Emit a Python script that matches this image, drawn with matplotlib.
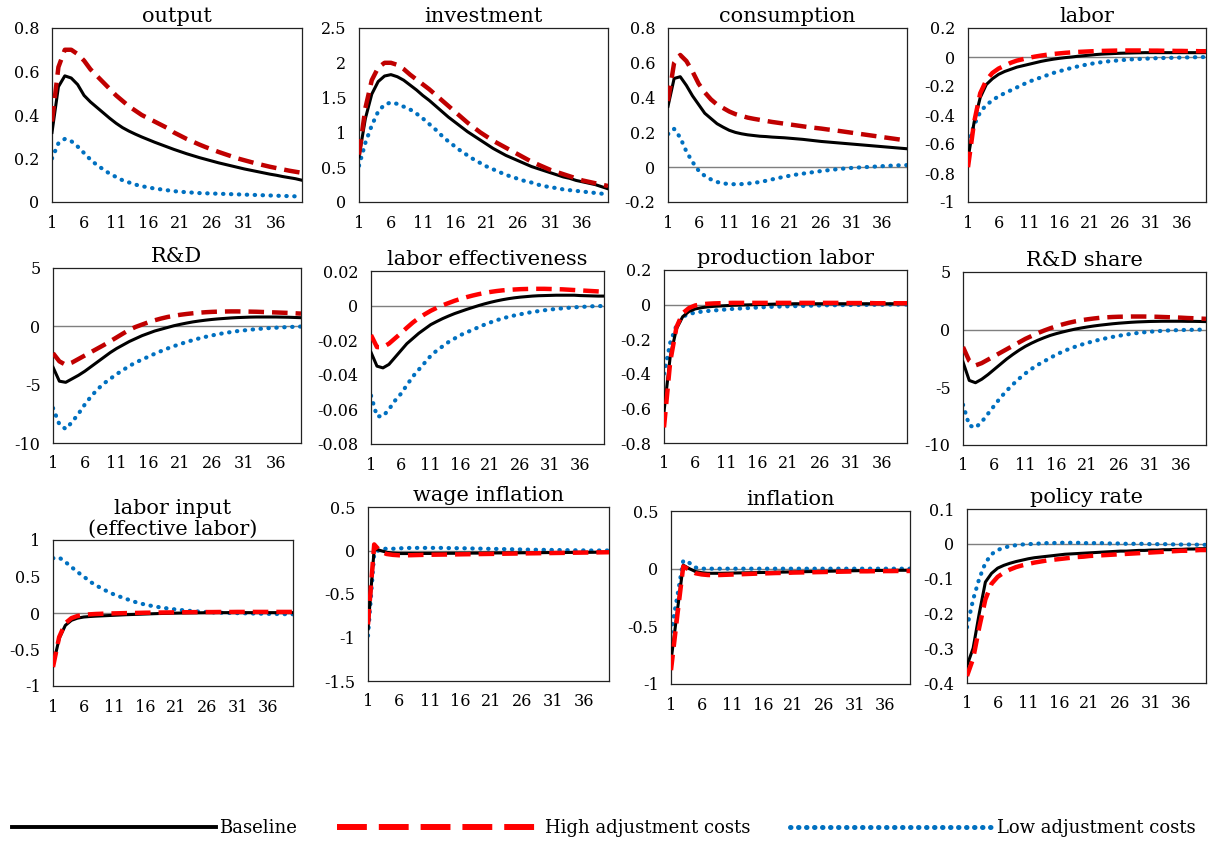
import matplotlib
matplotlib.use('Agg')
import matplotlib.pyplot as plt
from matplotlib.lines import Line2D

periods = list(range(1, 41))

# ---- data: impulse responses, 40 periods, three scenarios ----
output_base = [0.32, 0.53, 0.58, 0.57, 0.54, 0.49, 0.46, 0.435, 0.41, 0.385,
               0.362, 0.342, 0.326, 0.312, 0.299, 0.287, 0.275, 0.264, 0.253, 0.242,
               0.232, 0.222, 0.213, 0.204, 0.196, 0.188, 0.18, 0.173, 0.166, 0.159,
               0.152, 0.146, 0.14, 0.134, 0.128, 0.123, 0.117, 0.112, 0.107, 0.10]
output_high = [0.37, 0.62, 0.70, 0.70, 0.68, 0.65, 0.61, 0.58, 0.55, 0.52,
               0.49, 0.465, 0.44, 0.42, 0.40, 0.385, 0.37, 0.355, 0.34, 0.32,
               0.305, 0.29, 0.277, 0.264, 0.252, 0.241, 0.23, 0.22, 0.21, 0.20,
               0.192, 0.184, 0.176, 0.169, 0.162, 0.156, 0.15, 0.144, 0.139, 0.134]
output_low = [0.20, 0.27, 0.29, 0.28, 0.255, 0.225, 0.195, 0.17, 0.15, 0.13,
              0.115, 0.10, 0.09, 0.08, 0.073, 0.067, 0.062, 0.058, 0.054, 0.05,
              0.047, 0.045, 0.043, 0.041, 0.04, 0.039, 0.038, 0.037, 0.036, 0.035,
              0.034, 0.033, 0.032, 0.031, 0.03, 0.029, 0.028, 0.027, 0.026, 0.025]

inv_base = [0.65, 1.2, 1.55, 1.73, 1.81, 1.83, 1.80, 1.75, 1.68, 1.61,
            1.53, 1.46, 1.38, 1.30, 1.22, 1.15, 1.08, 1.01, 0.95, 0.89,
            0.83, 0.77, 0.72, 0.67, 0.63, 0.59, 0.55, 0.51, 0.48, 0.45,
            0.42, 0.39, 0.36, 0.34, 0.31, 0.29, 0.27, 0.25, 0.22, 0.19]
inv_high = [0.68, 1.35, 1.75, 1.93, 2.0, 2.0, 1.97, 1.91, 1.83, 1.76,
            1.69, 1.62, 1.54, 1.46, 1.38, 1.30, 1.22, 1.14, 1.07, 1.0,
            0.94, 0.88, 0.83, 0.78, 0.73, 0.68, 0.63, 0.58, 0.54, 0.5,
            0.46, 0.43, 0.4, 0.37, 0.34, 0.31, 0.29, 0.27, 0.25, 0.23]
inv_low = [0.52, 0.85, 1.1, 1.3, 1.40, 1.43, 1.41, 1.37, 1.33, 1.27,
           1.2, 1.12, 1.04, 0.95, 0.87, 0.80, 0.73, 0.67, 0.61, 0.56,
           0.51, 0.47, 0.43, 0.39, 0.36, 0.33, 0.30, 0.28, 0.25, 0.23,
           0.21, 0.2, 0.18, 0.17, 0.16, 0.15, 0.14, 0.13, 0.12, 0.11]

cons_base = [0.35, 0.51, 0.52, 0.47, 0.41, 0.36, 0.31, 0.28, 0.25, 0.23,
             0.212, 0.20, 0.192, 0.186, 0.182, 0.178, 0.176, 0.173, 0.171, 0.169,
             0.166, 0.163, 0.16, 0.156, 0.152, 0.148, 0.145, 0.142, 0.139, 0.136,
             0.133, 0.13, 0.127, 0.124, 0.121, 0.118, 0.115, 0.112, 0.109, 0.106]
cons_high = [0.38, 0.60, 0.645, 0.61, 0.55, 0.48, 0.43, 0.39, 0.36, 0.34,
             0.32, 0.305, 0.295, 0.285, 0.278, 0.272, 0.266, 0.26, 0.255, 0.25,
             0.245, 0.24, 0.235, 0.23, 0.226, 0.222, 0.217, 0.213, 0.208, 0.203,
             0.198, 0.193, 0.188, 0.183, 0.178, 0.173, 0.168, 0.163, 0.158, 0.153]
cons_low = [0.19, 0.22, 0.17, 0.09, 0.03, -0.02, -0.05, -0.07, -0.085, -0.093,
            -0.097, -0.098, -0.097, -0.094, -0.09, -0.085, -0.078, -0.07, -0.062, -0.055,
            -0.048, -0.042, -0.037, -0.032, -0.027, -0.022, -0.018, -0.014, -0.01, -0.007,
            -0.004, -0.002, 0.0, 0.002, 0.004, 0.006, 0.008, 0.01, 0.011, 0.012]

labor_base = [-0.70, -0.45, -0.28, -0.19, -0.15, -0.12, -0.10, -0.085, -0.07, -0.06,
              -0.05, -0.04, -0.03, -0.022, -0.015, -0.009, -0.004, 0.0, 0.005, 0.009,
              0.013, 0.017, 0.02, 0.022, 0.024, 0.026, 0.027, 0.028, 0.029, 0.03,
              0.03, 0.03, 0.03, 0.03, 0.03, 0.03, 0.03, 0.03, 0.03, 0.03]
labor_high = [-0.76, -0.45, -0.25, -0.16, -0.11, -0.08, -0.06, -0.04, -0.025, -0.015,
              -0.005, 0.003, 0.01, 0.016, 0.021, 0.025, 0.029, 0.032, 0.035, 0.037,
              0.039, 0.041, 0.042, 0.043, 0.044, 0.045, 0.045, 0.045, 0.045, 0.045,
              0.044, 0.044, 0.043, 0.043, 0.042, 0.042, 0.041, 0.041, 0.04, 0.04]
labor_low = [-0.60, -0.47, -0.38, -0.33, -0.30, -0.27, -0.25, -0.23, -0.21, -0.19,
             -0.17, -0.155, -0.14, -0.125, -0.11, -0.098, -0.086, -0.075, -0.065, -0.056,
             -0.048, -0.041, -0.035, -0.03, -0.026, -0.022, -0.019, -0.016, -0.014, -0.012,
             -0.01, -0.008, -0.007, -0.006, -0.005, -0.004, -0.003, -0.002, -0.001, 0.0]

rd_base = [-3.5, -4.7, -4.8, -4.5, -4.2, -3.85, -3.45, -3.05, -2.65, -2.25,
           -1.9, -1.6, -1.3, -1.05, -0.8, -0.6, -0.4, -0.25, -0.1, 0.05,
           0.17, 0.28, 0.38, 0.46, 0.53, 0.59, 0.64, 0.68, 0.72, 0.75,
           0.77, 0.79, 0.8, 0.8, 0.8, 0.8, 0.79, 0.78, 0.76, 0.74]
rd_high = [-2.3, -3.0, -3.3, -3.1, -2.8, -2.5, -2.2, -1.9, -1.6, -1.28,
           -0.95, -0.62, -0.3, -0.05, 0.15, 0.35, 0.52, 0.67, 0.8, 0.9,
           0.99, 1.06, 1.12, 1.17, 1.21, 1.24, 1.26, 1.27, 1.28, 1.28,
           1.27, 1.26, 1.25, 1.23, 1.21, 1.19, 1.17, 1.15, 1.12, 1.09]
rd_low = [-7.0, -8.4, -8.8, -8.2, -7.5, -6.7, -6.0, -5.4, -4.9, -4.5,
          -4.1, -3.75, -3.4, -3.1, -2.85, -2.6, -2.35, -2.12, -1.9, -1.7,
          -1.52, -1.34, -1.18, -1.03, -0.9, -0.78, -0.67, -0.57, -0.49, -0.41,
          -0.35, -0.29, -0.24, -0.19, -0.15, -0.12, -0.09, -0.06, -0.04, -0.02]

le_base = [-0.027, -0.035, -0.036, -0.034, -0.030, -0.026, -0.022, -0.019, -0.016, -0.0135,
           -0.011, -0.0092, -0.0075, -0.006, -0.0046, -0.0034, -0.0022, -0.0011, 0.0, 0.001,
           0.0019, 0.0027, 0.0034, 0.004, 0.0045, 0.0049, 0.0052, 0.0055, 0.0057, 0.0058,
           0.0059, 0.006, 0.006, 0.006, 0.006, 0.0058, 0.0057, 0.0056, 0.0055, 0.0055]
le_high = [-0.017, -0.024, -0.024, -0.022, -0.019, -0.016, -0.0128, -0.0098, -0.0072, -0.005,
           -0.003, -0.0013, 0.0002, 0.0015, 0.0028, 0.0039, 0.0049, 0.0058, 0.0066, 0.0073,
           0.0079, 0.0084, 0.0088, 0.0091, 0.0093, 0.0095, 0.0096, 0.0097, 0.0097, 0.0097,
           0.0096, 0.0095, 0.0094, 0.0092, 0.009, 0.0088, 0.0086, 0.0084, 0.0082, 0.008]
le_low = [-0.052, -0.064, -0.064, -0.060, -0.055, -0.051, -0.046, -0.041, -0.037, -0.033,
          -0.029, -0.026, -0.0235, -0.021, -0.019, -0.017, -0.0155, -0.014, -0.0125, -0.011,
          -0.0097, -0.0085, -0.0074, -0.0065, -0.0057, -0.005, -0.0043, -0.0037, -0.0032, -0.0027,
          -0.0023, -0.0019, -0.0016, -0.0013, -0.001, -0.0008, -0.0006, -0.0004, -0.0003, -0.0002]

pl_base = [-0.62, -0.30, -0.14, -0.07, -0.04, -0.025, -0.018, -0.013, -0.01, -0.008,
           -0.006, -0.004, -0.003, -0.002, -0.001, 0.0, 0.001, 0.002, 0.003, 0.004,
           0.004, 0.005, 0.005, 0.005, 0.005, 0.005, 0.005, 0.005, 0.005, 0.005,
           0.005, 0.005, 0.005, 0.005, 0.005, 0.005, 0.005, 0.005, 0.005, 0.005]
pl_high = [-0.71, -0.33, -0.13, -0.05, -0.02, -0.005, 0.002, 0.005, 0.007, 0.008,
           0.009, 0.01, 0.01, 0.01, 0.01, 0.01, 0.01, 0.01, 0.01, 0.01,
           0.01, 0.01, 0.01, 0.01, 0.01, 0.01, 0.01, 0.01, 0.01, 0.009,
           0.009, 0.009, 0.009, 0.009, 0.008, 0.008, 0.008, 0.008, 0.008, 0.008]
pl_low = [-0.40, -0.22, -0.12, -0.07, -0.055, -0.046, -0.041, -0.037, -0.034, -0.031,
          -0.028, -0.025, -0.023, -0.021, -0.019, -0.017, -0.015, -0.013, -0.012, -0.011,
          -0.01, -0.009, -0.008, -0.007, -0.006, -0.005, -0.004, -0.004, -0.003, -0.003,
          -0.002, -0.002, -0.002, -0.001, -0.001, -0.001, 0.0, 0.0, 0.0, 0.0]

rds_base = [-2.8, -4.4, -4.6, -4.3, -3.9, -3.45, -3.0, -2.55, -2.15, -1.78,
            -1.45, -1.17, -0.92, -0.7, -0.5, -0.34, -0.2, -0.07, 0.05, 0.15,
            0.24, 0.32, 0.39, 0.45, 0.51, 0.56, 0.6, 0.64, 0.67, 0.69,
            0.71, 0.72, 0.73, 0.73, 0.73, 0.73, 0.72, 0.72, 0.71, 0.7]
rds_high = [-1.5, -2.7, -3.1, -2.9, -2.6, -2.3, -2.0, -1.7, -1.4, -1.1,
            -0.8, -0.55, -0.3, -0.08, 0.12, 0.3, 0.46, 0.6, 0.72, 0.82,
            0.9, 0.97, 1.03, 1.07, 1.1, 1.12, 1.13, 1.14, 1.14, 1.14,
            1.13, 1.12, 1.1, 1.08, 1.06, 1.04, 1.01, 0.99, 0.96, 0.94]
rds_low = [-6.5, -8.3, -8.5, -8.0, -7.3, -6.6, -5.9, -5.3, -4.75, -4.25,
           -3.8, -3.4, -3.05, -2.75, -2.45, -2.15, -1.9, -1.68, -1.48, -1.3,
           -1.14, -0.99, -0.86, -0.74, -0.63, -0.53, -0.44, -0.36, -0.29, -0.23,
           -0.18, -0.14, -0.1, -0.07, -0.05, -0.03, -0.02, -0.01, 0.0, 0.0]

li_base = [-0.72, -0.35, -0.17, -0.10, -0.07, -0.055, -0.048, -0.043, -0.039, -0.035,
           -0.031, -0.027, -0.023, -0.02, -0.017, -0.014, -0.011, -0.008, -0.006, -0.004,
           -0.002, 0.0, 0.001, 0.002, 0.003, 0.004, 0.004, 0.005, 0.005, 0.005,
           0.005, 0.005, 0.005, 0.005, 0.005, 0.005, 0.005, 0.005, 0.005, 0.005]
li_high = [-0.74, -0.33, -0.14, -0.07, -0.04, -0.025, -0.018, -0.013, -0.01, -0.007,
           -0.005, -0.003, -0.001, 0.0, 0.002, 0.004, 0.005, 0.006, 0.007, 0.008,
           0.009, 0.01, 0.011, 0.012, 0.012, 0.013, 0.013, 0.014, 0.014, 0.014,
           0.015, 0.015, 0.015, 0.015, 0.015, 0.015, 0.015, 0.015, 0.015, 0.015]
li_low = [0.75, 0.76, 0.70, 0.63, 0.56, 0.50, 0.43, 0.38, 0.33, 0.29,
          0.25, 0.22, 0.19, 0.16, 0.135, 0.115, 0.098, 0.083, 0.07, 0.058,
          0.048, 0.039, 0.031, 0.024, 0.018, 0.013, 0.009, 0.005, 0.002, 0.0,
          -0.002, -0.004, -0.006, -0.008, -0.01, -0.012, -0.013, -0.015, -0.016, -0.017]

wi_base = [-0.90, 0.02, 0.0, -0.02, -0.03, -0.035, -0.035, -0.035, -0.035, -0.034,
           -0.034, -0.033, -0.033, -0.032, -0.032, -0.031, -0.031, -0.03, -0.03, -0.029,
           -0.029, -0.028, -0.028, -0.027, -0.027, -0.026, -0.026, -0.025, -0.025, -0.024,
           -0.024, -0.023, -0.023, -0.022, -0.022, -0.021, -0.021, -0.02, -0.02, -0.02]
wi_high = [-0.85, 0.07, -0.01, -0.04, -0.05, -0.055, -0.055, -0.054, -0.052, -0.05,
           -0.049, -0.048, -0.047, -0.046, -0.045, -0.044, -0.043, -0.042, -0.041, -0.04,
           -0.039, -0.038, -0.037, -0.036, -0.035, -0.034, -0.033, -0.032, -0.031, -0.03,
           -0.029, -0.028, -0.027, -0.026, -0.025, -0.024, -0.023, -0.022, -0.021, -0.02]
wi_low = [-0.98, -0.04, 0.02, 0.02, 0.02, 0.025, 0.028, 0.03, 0.03, 0.03,
          0.03, 0.03, 0.03, 0.028, 0.027, 0.026, 0.025, 0.023, 0.022, 0.02,
          0.019, 0.018, 0.016, 0.015, 0.013, 0.012, 0.01, 0.009, 0.008, 0.007,
          0.006, 0.005, 0.004, 0.003, 0.002, 0.001, 0.0, 0.0, 0.0, 0.0]

inf_base = [-0.80, -0.38, 0.03, 0.0, -0.025, -0.035, -0.04, -0.04, -0.04, -0.039,
            -0.038, -0.037, -0.036, -0.035, -0.034, -0.033, -0.032, -0.031, -0.03, -0.029,
            -0.028, -0.027, -0.026, -0.025, -0.024, -0.023, -0.022, -0.021, -0.02, -0.019,
            -0.018, -0.017, -0.017, -0.016, -0.016, -0.015, -0.015, -0.014, -0.014, -0.014]
inf_high = [-0.88, -0.42, 0.02, -0.01, -0.04, -0.05, -0.055, -0.056, -0.055, -0.053,
            -0.051, -0.049, -0.047, -0.045, -0.043, -0.041, -0.04, -0.038, -0.037, -0.036,
            -0.034, -0.033, -0.032, -0.031, -0.03, -0.029, -0.028, -0.027, -0.026, -0.025,
            -0.024, -0.023, -0.023, -0.022, -0.022, -0.021, -0.021, -0.02, -0.02, -0.02]
inf_low = [-0.55, -0.25, 0.07, 0.05, 0.01, 0.0, 0.0, 0.0, 0.0, 0.0,
           0.0, 0.0, 0.0, 0.0, 0.0, 0.0, 0.0, 0.0, 0.0, 0.0,
           0.0, 0.0, 0.0, 0.0, 0.0, 0.0, 0.0, 0.0, 0.0, 0.0,
           0.0, 0.0, 0.0, 0.0, 0.0, 0.0, 0.0, 0.0, 0.0, 0.0]

pr_base = [-0.35, -0.30, -0.20, -0.11, -0.085, -0.07, -0.062, -0.056, -0.051, -0.047,
           -0.043, -0.04, -0.038, -0.036, -0.034, -0.032, -0.03, -0.029, -0.028, -0.027,
           -0.026, -0.025, -0.024, -0.023, -0.022, -0.021, -0.021, -0.02, -0.019, -0.019,
           -0.018, -0.018, -0.017, -0.017, -0.016, -0.016, -0.015, -0.015, -0.014, -0.014]
pr_high = [-0.38, -0.33, -0.24, -0.16, -0.115, -0.095, -0.083, -0.074, -0.067, -0.062,
           -0.058, -0.054, -0.051, -0.048, -0.046, -0.044, -0.042, -0.04, -0.038, -0.037,
           -0.035, -0.034, -0.033, -0.032, -0.031, -0.03, -0.029, -0.028, -0.027, -0.026,
           -0.025, -0.024, -0.023, -0.022, -0.021, -0.02, -0.02, -0.019, -0.018, -0.018]
pr_low = [-0.24, -0.16, -0.10, -0.055, -0.03, -0.018, -0.011, -0.007, -0.004, -0.002,
          -0.001, 0.0, 0.001, 0.002, 0.002, 0.003, 0.003, 0.003, 0.003, 0.002,
          0.002, 0.002, 0.002, 0.001, 0.001, 0.001, 0.0, 0.0, 0.0, 0.0,
          -0.001, -0.001, -0.001, -0.001, -0.002, -0.002, -0.002, -0.002, -0.003, -0.003]

titles = ['output', 'investment', 'consumption', 'labor',
          'R&D', 'labor effectiveness', 'production labor', 'R&D share',
          'labor input\n(effective labor)', 'wage inflation', 'inflation', 'policy rate']
series = [(output_base, output_high, output_low), (inv_base, inv_high, inv_low),
          (cons_base, cons_high, cons_low), (labor_base, labor_high, labor_low),
          (rd_base, rd_high, rd_low), (le_base, le_high, le_low),
          (pl_base, pl_high, pl_low), (rds_base, rds_high, rds_low),
          (li_base, li_high, li_low), (wi_base, wi_high, wi_low),
          (inf_base, inf_high, inf_low), (pr_base, pr_high, pr_low)]
yticks = [[0, 0.2, 0.4, 0.6, 0.8], [0, 0.5, 1, 1.5, 2, 2.5],
          [-0.2, 0, 0.2, 0.4, 0.6, 0.8], [-1, -0.8, -0.6, -0.4, -0.2, 0, 0.2],
          [-10, -5, 0, 5], [-0.08, -0.06, -0.04, -0.02, 0, 0.02],
          [-0.8, -0.6, -0.4, -0.2, 0, 0.2], [-10, -5, 0, 5],
          [-1, -0.5, 0, 0.5, 1], [-1.5, -1, -0.5, 0, 0.5],
          [-1, -0.5, 0, 0.5], [-0.4, -0.3, -0.2, -0.1, 0, 0.1]]
xticks = list(range(1, 41, 5))

# ---- layout (pixel boxes: left, top, right, bottom) and styles ----
W, H = 1208, 842
boxes = [(52, 28, 302, 202), (359, 28, 608, 202), (668, 28, 907, 202), (968, 28, 1206, 202),
         (53, 268, 301, 443), (371, 271, 604, 444), (664, 270, 907, 443), (963, 272, 1206, 445),
         (53, 540, 293, 686), (368, 507, 609, 681), (671, 511, 910, 684), (967, 509, 1206, 683)]
dark_red = [True, True, True, False, True, False, False, True, False, False, False, False]

black = '#000000'
blue = '#0070C0'
plt.rcParams['font.family'] = 'DejaVu Serif'

fig = plt.figure(figsize=(W / 100, H / 100), dpi=100)

for i in range(12):
    l, t, r, b = boxes[i]
    ax = fig.add_axes([l / W, 1 - b / H, (r - l) / W, (b - t) / H])
    base, high, low = series[i]
    red = '#C00000' if dark_red[i] else '#FF0000'
    if yticks[i][0] < 0:
        ax.axhline(0, color='#7f7f7f', lw=1.0, zorder=1)
    ax.plot(periods, low, color=blue, lw=3.0, linestyle=(0, (0.1, 1.8)),
            dash_capstyle='round', zorder=2)
    ax.plot(periods, base, color=black, lw=2.2, zorder=3)
    ax.plot(periods, high, color=red, lw=3.2, linestyle=(0, (3.5, 1.8)), zorder=4)
    ax.set_xlim(1, 40)
    ax.set_ylim(yticks[i][0], yticks[i][-1])
    ax.set_xticks(xticks)
    ax.set_xticklabels([str(x) for x in xticks])
    ax.set_yticks(yticks[i])
    ax.set_yticklabels(['{:g}'.format(v) for v in yticks[i]])
    ax.tick_params(length=0, labelsize=11.5, pad=9)
    for s in ax.spines.values():
        s.set_linewidth(0.9)
        s.set_color('#222222')
    ax.set_title(titles[i], fontsize=15, pad=4, linespacing=1.1)

handles = [Line2D([], [], color=black, lw=2.8),
           Line2D([], [], color='#FF0000', lw=4.3, linestyle=(0, (5, 2))),
           Line2D([], [], color=blue, lw=3.6, linestyle=(0, (0.1, 1.5)), dash_capstyle='round')]
fig.legend(handles, ['Baseline', 'High adjustment costs', 'Low adjustment costs'],
           loc='center', bbox_to_anchor=(0.5, 1 - 828 / H), ncol=3, frameon=False,
           fontsize=13, handlelength=11.3, handletextpad=0.2, columnspacing=2.2,
           borderpad=0, borderaxespad=0)

fig.savefig('out.png', dpi=100)
